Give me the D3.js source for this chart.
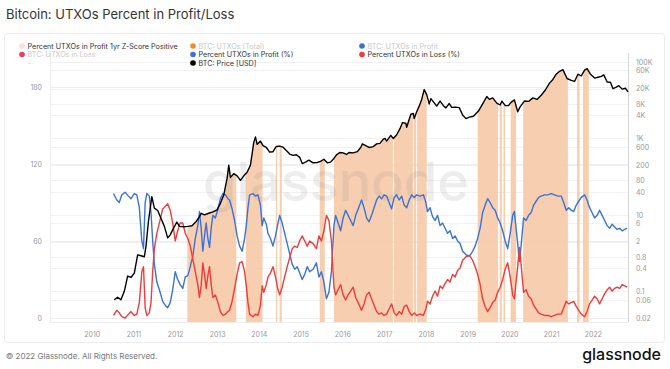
<!DOCTYPE html>
<html>
<head>
<meta charset="utf-8">
<script src="https://cdnjs.cloudflare.com/ajax/libs/d3/7.8.5/d3.min.js"></script>
<style>
  body { margin: 0; background: #fff; }
  svg text { font-family: Inter, "Open Sans", sans-serif; }
</style>
</head>
<body>
<div id="chart-area"></div>
<script>
// DATA (time in decimal years)
var pctYears = [2010.52,2010.60,2010.66,2010.72,2010.80,2010.88,2010.94,2011.02,2011.08,2011.14,2011.20,2011.24,2011.28,2011.32,2011.38,2011.42,2011.46,2011.50,2011.56,2011.62,2011.70,2011.76,2011.82,2011.88,2011.94,
  2012.00,2012.06,2012.12,2012.18,2012.24,2012.30,2012.36,2012.42,2012.48,2012.54,2012.58,2012.62,2012.66,2012.70,2012.74,2012.78,2012.82,2012.86,2012.90,2012.96,
  2013.02,2013.08,2013.14,2013.20,2013.26,2013.30,2013.36,2013.42,2013.48,2013.54,2013.60,2013.66,2013.70,2013.74,2013.78,2013.86,2013.92,2013.98,
  2014.04,2014.08,2014.12,2014.18,2014.22,2014.28,2014.34,2014.40,2014.46,2014.50,2014.56,2014.62,2014.68,2014.74,2014.80,2014.86,2014.92,2014.98,
  2015.04,2015.10,2015.16,2015.22,2015.30,2015.38,2015.44,2015.50,2015.56,2015.62,2015.68,2015.74,2015.80,2015.84,2015.90,2015.96,
  2016.02,2016.08,2016.14,2016.20,2016.26,2016.32,2016.38,2016.46,2016.52,2016.58,2016.64,2016.70,2016.76,2016.82,2016.88,2016.94,
  2017.00,2017.06,2017.12,2017.18,2017.24,2017.30,2017.36,2017.42,2017.48,2017.54,2017.60,2017.66,2017.72,2017.78,2017.86,2017.94,
  2018.00,2018.04,2018.10,2018.16,2018.22,2018.28,2018.34,2018.40,2018.46,2018.52,2018.58,2018.64,2018.70,2018.76,2018.82,2018.88,2018.94,
  2019.00,2019.06,2019.12,2019.18,2019.24,2019.30,2019.36,2019.42,2019.48,2019.54,2019.60,2019.66,2019.72,2019.78,2019.84,2019.90,2019.96,
  2020.02,2020.08,2020.12,2020.16,2020.20,2020.24,2020.28,2020.34,2020.40,2020.46,2020.52,2020.58,2020.64,2020.70,2020.76,2020.84,2020.92,
  2021.00,2021.08,2021.16,2021.24,2021.30,2021.36,2021.42,2021.48,2021.54,2021.60,2021.66,2021.72,2021.80,2021.86,2021.92,2021.98,
  2022.04,2022.10,2022.16,2022.22,2022.28,2022.34,2022.40,2022.46,2022.52,2022.58,2022.64,2022.70,2022.76,2022.82];

var pctProfit = [97,92,90,96,98,95,93,97,96,86,60,54,90,97,95,82,60,42,28,22,13,10,8,12,22,
  36,30,26,23,32,33,40,48,62,72,83,70,52,64,74,62,55,70,80,78,
  85,93,97,96,93,92,85,76,64,56,52,62,72,86,96,97,95,96,
  88,72,78,73,66,62,56,64,74,80,74,66,58,50,42,38,40,35,
  30,34,40,36,38,43,32,36,28,15,20,36,72,80,74,68,
  78,84,80,76,72,80,85,92,86,78,75,80,86,92,95,93,
  96,95,90,85,94,96,92,95,88,86,92,96,94,96,95,96,
  90,83,86,79,76,80,72,74,70,66,68,62,64,60,58,52,50,
  48,49,52,56,62,70,82,88,93,90,86,84,78,74,68,60,54,
  66,80,83,70,58,44,56,78,76,80,82,88,91,94,95,96,96,
  97,96,95,95,90,84,86,84,83,88,91,94,96,92,86,82,
  78,80,84,80,76,72,70,73,71,69,70,68,69,70];

var pctLoss = [2,6,4,1,0,3,5,2,3,12,36,40,8,2,4,12,36,54,66,74,85,87,89,84,74,
  60,68,74,74,66,62,56,46,36,26,16,25,43,34,23,33,40,26,16,18,
  12,5,2,3,5,6,13,23,34,43,44,36,25,12,3,1,3,2,
  10,25,20,26,32,35,40,32,22,18,24,32,40,47,54,56,55,60,
  64,60,56,60,58,54,64,60,68,80,76,60,24,18,22,26,
  18,14,18,21,24,16,12,6,11,18,20,15,10,5,3,4,
  2,3,7,11,4,2,5,3,9,10,5,2,4,2,3,2,
  7,13,11,17,21,17,25,23,27,30,28,34,32,37,39,45,47,
  49,48,45,40,34,26,15,9,5,8,12,14,20,24,30,38,43,
  32,18,15,28,40,55,42,20,22,17,15,10,7,4,3,2,2,
  1,2,3,3,8,13,11,12,13,9,6,3,1,5,11,14,
  17,15,11,15,19,22,24,21,23,24,23,26,25,24];

var priceYears = [2010.54,2010.62,2010.70,2010.78,2010.86,2010.94,2011.02,2011.10,2011.18,2011.26,2011.30,2011.36,2011.44,2011.50,2011.58,2011.66,2011.74,2011.82,2011.88,2011.96,
  2012.04,2012.10,2012.20,2012.30,2012.40,2012.50,2012.58,2012.62,2012.70,2012.80,2012.90,
  2013.00,2013.08,2013.16,2013.24,2013.28,2013.32,2013.40,2013.48,2013.56,2013.64,2013.72,2013.80,2013.88,2013.92,2013.96,
  2014.04,2014.10,2014.18,2014.26,2014.34,2014.42,2014.50,2014.58,2014.66,2014.74,2014.82,2014.90,2014.98,
  2015.04,2015.12,2015.20,2015.30,2015.40,2015.48,2015.56,2015.64,2015.72,2015.80,2015.86,2015.94,
  2016.02,2016.10,2016.16,2016.26,2016.36,2016.44,2016.48,2016.56,2016.64,2016.74,2016.82,2016.90,2016.98,
  2017.02,2017.06,2017.16,2017.22,2017.30,2017.38,2017.44,2017.52,2017.54,2017.58,2017.64,2017.70,2017.72,2017.78,2017.84,2017.90,2017.96,
  2018.02,2018.08,2018.12,2018.20,2018.26,2018.34,2018.42,2018.48,2018.56,2018.62,2018.70,2018.80,2018.88,2018.96,
  2019.04,2019.14,2019.26,2019.36,2019.46,2019.52,2019.60,2019.70,2019.78,2019.82,2019.90,2019.98,
  2020.04,2020.12,2020.20,2020.26,2020.36,2020.46,2020.56,2020.66,2020.76,2020.86,2020.96,
  2021.04,2021.12,2021.20,2021.28,2021.38,2021.48,2021.56,2021.64,2021.72,2021.80,2021.86,2021.94,
  2022.04,2022.12,2022.20,2022.26,2022.34,2022.42,2022.48,2022.56,2022.62,2022.70,2022.78,2022.84];

var priceUsd = [0.06,0.07,0.06,0.1,0.25,0.23,0.3,0.9,0.85,0.8,1.5,7,30,15,13,8,5,2.5,3,4.5,
  6.5,5,4.9,5,5.2,6.7,9,11,10,11,12,
  13.5,20,33,90,200,95,120,105,80,105,130,200,800,1100,700,
  850,650,580,440,450,620,630,590,480,390,360,375,320,
  220,240,270,230,235,250,285,230,240,300,370,430,
  420,380,430,420,450,580,720,650,580,610,720,740,960,
  1000,850,1200,1000,1250,1800,2600,2500,1950,2700,4300,4500,3300,5000,7000,10500,19000,
  14000,8000,11000,8500,7000,9500,7200,6300,8200,6500,6600,6400,4100,3300,
  3600,3800,5200,8000,12500,10500,11500,8400,7500,9400,7300,7200,
  8800,10200,5000,6800,9500,9300,11500,10500,13500,18500,28000,
  35000,48000,57000,63000,37000,33000,31000,48000,43000,61000,67000,48000,
  38000,40000,42000,46000,30000,29500,20000,22000,24000,19500,20500,16500];

// periods with 1yr Z-score positive
var zStart = [2012.29,2013.69,2014.41,2014.50,2015.46,2015.80,2017.23,2017.71,2017.79,2019.24,2019.77,2019.86,2020.03,2020.33,2021.62,2021.76];
var zEnd   = [2013.46,2014.09,2014.44,2014.55,2015.58,2017.21,2017.69,2017.77,2018.02,2019.73,2019.82,2019.90,2020.16,2021.40,2021.68,2021.90];

// tick labels
var yearTicks = [2010,2011,2012,2013,2014,2015,2016,2017,2018,2019,2020,2021,2022];
var leftTicks = [0,60,120,180];
var priceTicks = [100000,60000,20000,8000,4000,1000,600,200,80,40,10,6,2,0.8,0.4,0.1,0.06,0.02];
var priceLabels = ["100K","60K","20K","8K","4K","1K","600","200","80","40","10","6","2","0.8","0.4","0.1","0.06","0.02"];

var legendNames = ["Percent UTXOs in Profit 1yr Z-Score Positive","BTC: UTXOs in Loss","-",
  "BTC: UTXOs (Total)","Percent UTXOs in Profit (%)","BTC: Price [USD]",
  "BTC: UTXOs in Profit","Percent UTXOs in Loss (%)"];
var legendColors = ["#f8e4d2","#ee3d5e",null,"#f28c28","#3b72d8","#000000","#3b72d8","#ef3b3b"];
var legendActive = [true,false,false,false,true,true,false,true];

/* SETUP *****************************************************/
var W = 670, H = 369;
var left = 50, right = 628, bottom = 322;

function yearToDate(t){
  var y = Math.floor(t);
  var a = new Date(y, 0, 1), b = new Date(y + 1, 0, 1);
  return new Date(+a + (t - y) * (b - a));
}

var svg = d3.select("#chart-area").append("svg")
  .attr("width", W).attr("height", H);

// card
svg.append("rect")
  .attr("x", 4.5).attr("y", 33.5).attr("width", 660).attr("height", 309)
  .attr("rx", 3).attr("fill", "#fff").attr("stroke", "#ececec");

svg.append("text")
  .attr("x", 6).attr("y", 19)
  .attr("font-size", "13px").attr("fill", "#333")
  .text("Bitcoin: UTXOs Percent in Profit/Loss");

// scales
var x = d3.scaleTime()
  .domain([new Date(2009, 0, 1), yearToDate(2022.84)])
  .range([left, right]);

var yPct = d3.scaleLinear().domain([0, 200]).range([318, 61.4]);

var yPrice = d3.scaleLog().domain([0.02, 100000]).range([318, 62]);

// grid lines
svg.append("g").selectAll("line").data(priceTicks).enter().append("line")
  .attr("x1", left).attr("x2", right)
  .attr("y1", function(d){ return Math.round(yPrice(d)) + 0.5; })
  .attr("y2", function(d){ return Math.round(yPrice(d)) + 0.5; })
  .attr("stroke", "#f1f1f1");
svg.append("g").selectAll("line").data(leftTicks).enter().append("line")
  .attr("x1", left).attr("x2", right)
  .attr("y1", function(d){ return Math.round(yPct(d)) + 0.5; })
  .attr("y2", function(d){ return Math.round(yPct(d)) + 0.5; })
  .attr("stroke", "#eeeeee");

// z-score periods: area under the price, clipped to the periods
svg.append("clipPath").attr("id", "zclip")
  .selectAll("rect").data(zStart).enter().append("rect")
  .attr("x", function(d){ return x(yearToDate(d)); })
  .attr("y", 40)
  .attr("width", function(d, i){ return Math.max(1, x(yearToDate(zEnd[i])) - x(yearToDate(d))); })
  .attr("height", bottom - 40);

var priceArea = d3.area()
  .x(function(d, i){ return x(yearToDate(priceYears[i])); })
  .y0(bottom)
  .y1(function(d){ return yPrice(d); });

svg.append("path").datum(priceUsd)
  .attr("d", priceArea)
  .attr("clip-path", "url(#zclip)")
  .attr("fill", "#f6c9a6").attr("opacity", 0.9);

// watermark
svg.append("text")
  .attr("x", 336).attr("y", 201)
  .attr("text-anchor", "middle")
  .attr("font-size", "54px").attr("font-weight", 500)
  .attr("fill", "#999").attr("opacity", 0.17)
  .text("glassnode");

// frame lines
svg.append("line").attr("x1", left + 0.5).attr("x2", left + 0.5).attr("y1", 53).attr("y2", bottom)
  .attr("stroke", "#ececec");
svg.append("line").attr("x1", left).attr("x2", right).attr("y1", bottom + 0.5).attr("y2", bottom + 0.5)
  .attr("stroke", "#ececec");
svg.append("line").attr("x1", right + 0.5).attr("x2", right + 0.5).attr("y1", 53).attr("y2", bottom)
  .attr("stroke", "#d6d6d6");

// lines
var pctLine = d3.line()
  .x(function(d, i){ return x(yearToDate(pctYears[i])); })
  .y(function(d){ return yPct(d); });

svg.append("path").datum(pctProfit)
  .attr("d", pctLine)
  .attr("fill", "none").attr("stroke", "#3b72d8").attr("stroke-width", 1.4)
  .attr("stroke-linejoin", "round");

svg.append("path").datum(pctLoss)
  .attr("d", pctLine)
  .attr("fill", "none").attr("stroke", "#ef3b3b").attr("stroke-width", 1.4)
  .attr("stroke-linejoin", "round");

var priceLine = d3.line()
  .x(function(d, i){ return x(yearToDate(priceYears[i])); })
  .y(function(d){ return yPrice(d); });

svg.append("path").datum(priceUsd)
  .attr("d", priceLine)
  .attr("fill", "none").attr("stroke", "#000").attr("stroke-width", 1.4)
  .attr("stroke-linejoin", "round");

// axes
var xAxis = d3.axisBottom(x)
  .tickValues(yearTicks.map(function(y){ return new Date(y, 0, 1); }))
  .tickFormat(d3.timeFormat("%Y"))
  .tickSize(0).tickPadding(10);
var gx = svg.append("g").attr("transform", "translate(0," + bottom + ")").call(xAxis);

var yAxisL = d3.axisLeft(yPct).tickValues(leftTicks).tickSize(0).tickPadding(8);
var gl = svg.append("g").attr("transform", "translate(" + left + ",0)").call(yAxisL);

var yAxisR = d3.axisRight(yPrice).tickValues(priceTicks)
  .tickFormat(function(d, i){ return priceLabels[i]; })
  .tickSize(0).tickPadding(8);
var gr = svg.append("g").attr("transform", "translate(" + right + ",0)").call(yAxisR);

[gx, gl, gr].forEach(function(g){
  g.select(".domain").remove();
  g.selectAll("text").attr("font-size", "7px").attr("fill", "#999")
    .attr("font-family", "Inter, 'Open Sans', sans-serif");
});

// legend
var colX = [22, 193, 362], rowY = [46, 54.5, 63];
var lg = svg.append("g").selectAll("g").data(legendNames).enter().append("g")
  .attr("transform", function(d, i){
    return "translate(" + colX[Math.floor(i / 3)] + "," + rowY[i % 3] + ")";
  });
lg.filter(function(d, i){ return legendColors[i] != null; }).append("circle")
  .attr("r", 2.8)
  .attr("fill", function(d){ return legendColors[legendNames.indexOf(d)]; });
lg.append("text")
  .attr("x", function(d){ return d == "-" ? 6 : 5.5; })
  .attr("y", 2.5)
  .attr("font-size", "7.2px")
  .attr("fill", function(d){ return legendActive[legendNames.indexOf(d)] ? "#333" : "#c9c9c9"; })
  .text(function(d){ return d; });

// footer
svg.append("text")
  .attr("x", 6).attr("y", 359)
  .attr("font-size", "8px").attr("fill", "#777")
  .text("\u00a9 2022 Glassnode. All Rights Reserved.");

svg.append("text")
  .attr("x", 661).attr("y", 360)
  .attr("text-anchor", "end")
  .attr("font-size", "16px").attr("font-weight", 500).attr("fill", "#111")
  .text("glassnode");
</script>
</body>
</html>
